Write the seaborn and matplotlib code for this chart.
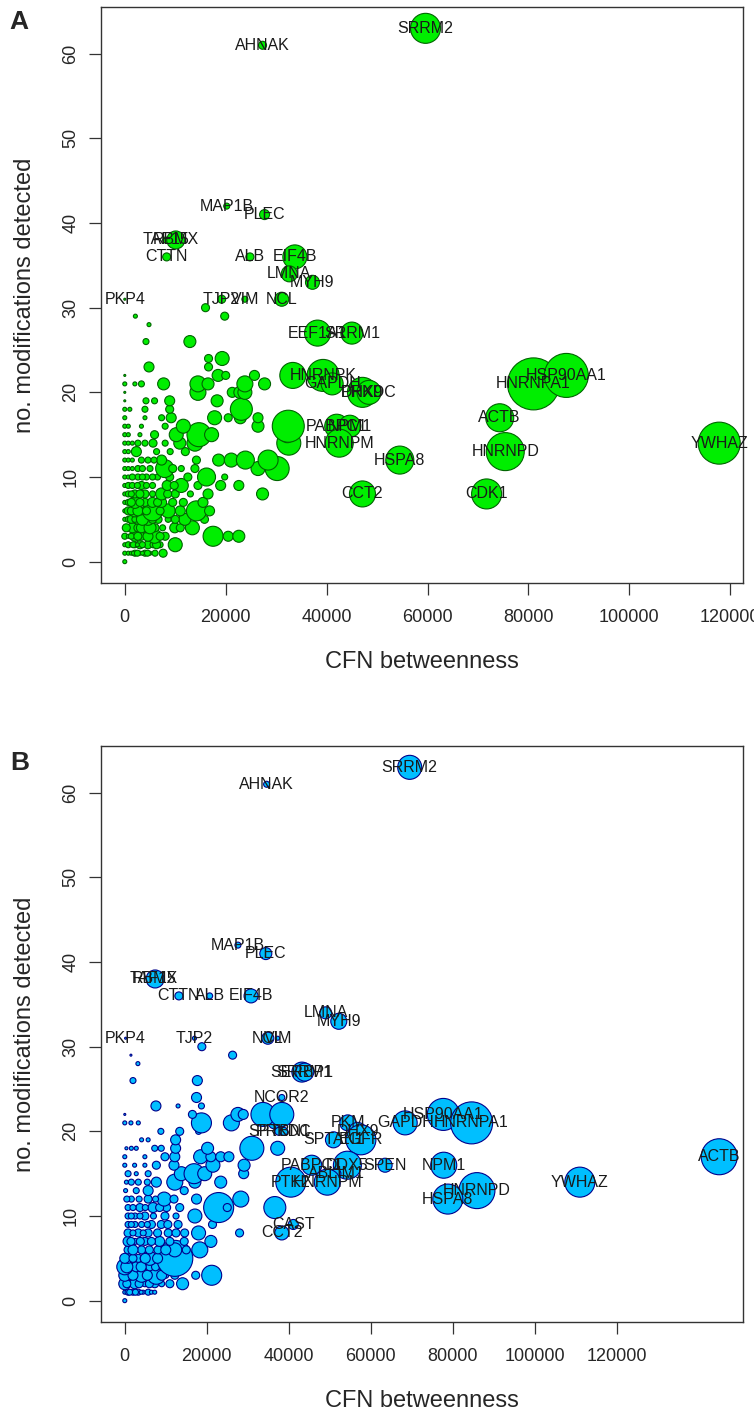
import numpy as np
import pandas as pd
import matplotlib
matplotlib.use("Agg")
import matplotlib.pyplot as plt
import seaborn as sns

# ---------------- DATA ----------------
# Panel A: labelled proteins (x = CFN betweenness in thousands, y = modifications, r = bubble radius)
a_names = ["SRRM2", "AHNAK", "MAP1B", "PLEC", "TAF15", "RBMX", "CTTN", "ALB", "EIF4B", "LMNA",
           "MYH9", "PKP4", "TJP2", "VIM", "NCL", "EEF1A1", "SRRM1", "HNRNPK", "GAPDH", "DHX9",
           "PRKDC", "HNRNPA1", "HSP90AA1", "ACTB", "HNRNPD", "YWHAZ", "CDK1", "CCT2", "HSPA8",
           "PABPC1", "NPM1", "HNRNPM"]
a_lab_x = [59.6, 27.3, 20.2, 27.7, 8.1, 10.1, 8.3, 24.8, 33.7, 32.6,
           37.2, 0.0, 19.2, 23.8, 31.1, 38.2, 45.0, 39.3, 41.1, 47.1,
           48.4, 81.0, 87.5, 74.3, 75.4, 117.8, 71.7, 47.1, 54.5,
           42.0, 44.6, 42.5]
a_lab_y = [63, 61, 42, 41, 38, 38, 36, 36, 36, 34,
           33, 31, 31, 31, 31, 27, 27, 22, 21, 20,
           20, 21, 22, 17, 13, 14, 8, 8, 12,
           16, 16, 14]
a_lab_r = [15, 4, 3, 5, 3, 9, 4, 4, 12, 8,
           7, 1, 4, 3, 7, 13, 11, 16, 11, 15,
           12, 26, 22, 14, 19, 21, 15, 13, 14,
           12, 11, 14]

# Panel A: unlabelled proteins, one row per modification count
a_rows_y = [0, 1, 2, 3, 4, 5, 6, 7, 8, 9, 10, 11, 12, 13, 14, 15, 16, 17, 18, 19, 20, 21, 22,
            23, 24, 26, 28, 29, 30]
a_rows_x = [
    [0],
    [0, 0.7, 1.3, 2.0, 3.0, 4.0, 5.0, 6.0, 7.6, 1.7, 2.5, 3.5, 4.5],
    [0, 0.7, 1.3, 2.0, 3.0, 4.6, 5.6, 7.0, 10.0, 1.7, 2.5, 3.5, 6.3],
    [0, 0.7, 2.0, 3.3, 5.9, 8.0, 17.5, 20.5, 22.6, 1.3, 2.6, 4.6, 7.0],
    [0, 0.7, 1.5, 2.6, 4.0, 6.0, 9.9, 11.0, 13.4, 0.3, 3.3, 5.0, 7.5],
    [0, 0.7, 1.3, 2.6, 4.6, 6.6, 8.6, 11.9, 15.8, 2.0, 3.5, 5.5, 10.0],
    [0, 0.7, 2.0, 3.3, 5.5, 8.6, 11.0, 14.2, 16.8, 1.3, 2.6, 4.3, 7.0],
    [0, 0.7, 2.0, 4.0, 7.3, 9.5, 11.6, 15.5, 1.3, 3.0, 5.5, 6.5],
    [0, 0.7, 2.0, 4.0, 7.3, 10.0, 13.0, 16.5, 27.3, 1.3, 3.0, 5.5, 8.5],
    [0, 0.7, 3.3, 5.5, 8.4, 11.2, 14.5, 19.0, 22.6, 1.5, 2.5, 4.3, 9.8],
    [0, 0.7, 2.6, 4.3, 6.5, 8.9, 12.5, 16.2, 19.8, 1.5, 3.5, 5.5],
    [0, 0.7, 2.6, 5.0, 7.9, 11.2, 13.9, 26.4, 30.2, 1.5, 3.5, 9.5],
    [0, 0.7, 3.3, 4.6, 7.3, 14.2, 18.6, 21.1, 23.9, 28.4, 1.5, 5.8],
    [0, 0.7, 2.3, 6.3, 9.0, 12.0],
    [0, 0.7, 2.6, 5.6, 8.0, 10.9, 13.9, 32.5, 1.5, 4.0],
    [0, 0.7, 3.0, 5.9, 10.2, 14.7, 17.2, 32.2],
    [0, 0.7, 3.3, 8.0, 11.6, 26.4, 32.4],
    [0, 4.0, 7.3, 9.2, 17.8, 20.5, 22.9, 26.4],
    [0, 1.0, 4.0, 8.9, 23.1],
    [0, 4.2, 5.9, 8.9, 18.3],
    [0, 14.5, 21.3, 22.8, 23.8],
    [0, 2.0, 3.3, 7.7, 14.5, 16.5, 23.8, 27.7],
    [0, 18.5, 20.0, 25.7, 33.3],
    [4.8, 16.6],
    [16.6, 19.3],
    [4.2, 12.9],
    [4.8],
    [2.1, 19.8],
    [16.0],
]
a_rows_r = [
    [2],
    [2, 2, 2, 3, 2, 3, 2, 3, 4, 2, 3, 2, 3],
    [2, 3, 2, 3, 4, 4, 3, 3, 7, 3, 2, 3, 4],
    [3, 2, 5, 4, 7, 4, 10, 5, 6, 3, 4, 5, 4],
    [2, 3, 5, 4, 5, 4, 5, 4, 7, 4, 5, 6, 3],
    [2, 3, 4, 5, 6, 4, 3, 6, 4, 3, 6, 4, 4],
    [2, 4, 6, 4, 10, 7, 5, 10, 5, 4, 5, 4, 4],
    [2, 3, 6, 4, 5, 4, 4, 5, 4, 4, 5, 4],
    [2, 3, 4, 4, 6, 4, 3, 5, 6, 3, 4, 3, 4],
    [2, 3, 4, 3, 5, 7, 4, 5, 5, 3, 3, 3, 4],
    [2, 2, 3, 3, 3, 4, 4, 9, 3, 3, 3, 3],
    [2, 2, 3, 3, 9, 3, 4, 7, 12, 2, 3, 4],
    [2, 2, 3, 3, 5, 4, 6, 7, 9, 10, 2, 3],
    [2, 2, 5, 3, 3, 4],
    [2, 2, 3, 4, 3, 6, 8, 12, 2, 3],
    [2, 2, 2, 4, 7, 12, 7, 8],
    [2, 2, 2, 3, 7, 6, 16],
    [2, 2, 3, 5, 7, 4, 6, 5],
    [2, 2, 3, 4, 11],
    [1, 3, 3, 5, 6],
    [1, 8, 5, 6, 7],
    [2, 2, 3, 6, 8, 6, 8, 6],
    [1, 6, 4, 5, 13],
    [5, 4],
    [4, 7],
    [3, 6],
    [2],
    [2, 4],
    [4],
]

# Panel B: labelled proteins
b_names = ["SRRM2", "AHNAK", "MAP1B", "PLEC", "TAF15", "RBMX", "CTTN", "ALB", "EIF4B", "LMNA",
           "MYH9", "PKP4", "TJP2", "NCL", "VIM", "SERBP1", "SRRM1", "NCOR2", "SPTBN1", "PRKDC",
           "PKM", "DHX9", "SPTAN1", "EGFR", "GAPDH", "HSP90AA1", "HNRNPA1", "ACTB", "YWHAZ",
           "NPM1", "HNRNPD", "HSPA8", "SPEN", "DDX5", "PABPC1", "ABLIM1", "HNRNPM", "PTK2",
           "CAST", "CCT2"]
b_lab_x = [69.5, 34.6, 27.6, 34.4, 7.0, 7.4, 13.2, 20.7, 30.8, 49.0,
           52.2, 0.2, 17.0, 34.9, 37.3, 43.2, 43.9, 38.3, 37.6, 38.8,
           54.4, 56.8, 50.9, 57.6, 68.4, 77.7, 84.6, 145.0, 111.0,
           77.8, 85.9, 78.8, 63.5, 54.3, 45.6, 51.5, 49.4, 40.5,
           41.1, 38.3]
b_lab_y = [63, 61, 42, 41, 38, 38, 36, 36, 36, 34,
           33, 31, 31, 31, 31, 27, 27, 24, 20, 20,
           21, 20, 19, 19, 21, 22, 21, 17, 14,
           16, 13, 12, 16, 16, 16, 15, 14, 14,
           9, 8]
b_lab_r = [12, 3, 3, 6, 3, 9, 4, 3, 7, 6,
           8, 1, 2, 6, 2, 10, 9, 3, 4, 4,
           8, 9, 8, 15, 12, 16, 21, 18, 15,
           13, 18, 15, 7, 14, 10, 5, 13, 15,
           5, 7]

b_rows_y = [0, 1, 2, 3, 4, 5, 6, 7, 8, 9, 10, 11, 12, 13, 14, 15, 16, 17, 18, 19, 20, 21, 22,
            23, 24, 26, 28, 29, 30]
b_rows_x = [
    [0],
    [0, 0.8, 2.0, 3.3, 4.5, 5.7, 6.5, 1.2, 2.6, 4.0, 7.3],
    [0, 1.0, 2.4, 4.9, 7.3, 9.0, 14.1, 0.5, 3.5, 6.0, 11.0],
    [0.8, 4.1, 7.7, 10.0, 12.2, 17.3, 21.2, 0, 2.0, 5.5, 9.0],
    [0, 1.5, 2.8, 6.1, 9.3, 13.0, 0.5, 4.0, 7.5, 11.0],
    [0.8, 3.3, 4.5, 6.1, 9.8, 12.2, 0, 2.0, 5.0, 8.0],
    [0.8, 4.1, 8.1, 12.2, 15.0, 18.3, 2.0, 6.0, 10.0],
    [0.8, 2.5, 4.9, 8.5, 11.0, 21.0, 1.5, 3.8, 6.5, 14.5],
    [0.8, 3.3, 5.7, 10.6, 14.6, 18.0, 28.0, 2.0, 4.5, 8.0, 12.5],
    [0.8, 2.5, 4.1, 6.5, 8.9, 13.0, 21.4, 1.6, 5.5, 10.5],
    [0.8, 2.5, 4.9, 9.8, 12.5, 17.1, 1.6, 3.7, 7.0],
    [0.8, 3.7, 6.9, 10.2, 13.4, 22.9, 25.0, 36.6, 2.0, 5.0, 8.5],
    [1.6, 3.5, 5.7, 9.6, 17.5, 28.3, 0.5, 7.5, 12.0],
    [0.2, 2.8, 5.7, 14.5],
    [0.4, 1.6, 3.3, 7.7, 12.2, 17.1, 23.4, 5.5],
    [0.8, 2.8, 5.7, 13.8, 16.9, 19.5, 29.0],
    [0, 2.4, 4.9, 7.7, 12.0, 21.5, 29.1],
    [0, 4.9, 9.8, 12.2, 18.5, 21.0, 23.4, 25.4],
    [0.4, 1.6, 2.8, 7.3, 8.9, 12.4, 20.2, 31.0, 37.3],
    [4.1, 5.7, 12.4],
    [8.8, 13.4, 18.0],
    [0, 1.5, 3.3, 18.7, 26.0, 36.5],
    [0, 16.5, 27.6, 28.9, 33.7, 38.3],
    [7.6, 13.0, 18.7],
    [17.5],
    [2.0, 17.7],
    [3.2],
    [1.5, 26.3],
    [18.8],
]
b_rows_r = [
    [2],
    [2, 3, 3, 3, 2, 3, 2, 3, 3, 2, 2],
    [6, 3, 5, 3, 4, 3, 6, 4, 4, 4, 4],
    [4, 7, 9, 3, 4, 4, 10, 6, 5, 5, 5],
    [8, 4, 5, 4, 4, 3, 6, 5, 4, 5],
    [5, 4, 3, 7, 5, 18, 5, 4, 5, 5],
    [4, 4, 4, 7, 4, 8, 5, 4, 5],
    [5, 3, 4, 5, 4, 6, 4, 4, 4, 4],
    [4, 4, 4, 4, 4, 7, 4, 3, 3, 4, 4],
    [3, 3, 3, 4, 4, 4, 4, 3, 3, 4],
    [3, 3, 4, 4, 3, 7, 3, 3, 3],
    [3, 4, 5, 4, 4, 15, 4, 11, 3, 3, 4],
    [3, 3, 4, 7, 5, 8, 3, 3, 4],
    [2, 3, 5, 4],
    [2, 3, 3, 5, 8, 6, 6, 3],
    [3, 2, 3, 7, 10, 7, 5],
    [2, 2, 2, 4, 5, 7, 6],
    [2, 2, 4, 5, 7, 5, 5, 5],
    [1.5, 2, 2, 3, 3, 5, 6, 12, 7],
    [2, 2, 5],
    [3, 4, 3],
    [2, 2, 2, 10, 8, 6],
    [1, 4, 7, 5, 12, 12],
    [5, 2, 3],
    [5],
    [3, 5],
    [2],
    [1, 4],
    [4],
]

x_ticks_a = [0, 20000, 40000, 60000, 80000, 100000, 120000]
x_ticks_b = [0, 20000, 40000, 60000, 80000, 100000, 120000]
y_ticks = [0, 10, 20, 30, 40, 50, 60]

# ---------------- STYLE ----------------
sns.set_theme(style="white")
plt.rcParams['font.family'] = ['Liberation Sans', 'DejaVu Sans']

W, H = 754, 1411
DPI = 100
PX2 = (2 * 72.0 / DPI) ** 2  # radius in px -> marker area in pt^2


def build_frame(rows_y, rows_x, rows_r, names, lx, ly, lr):
    xs, ys, rs = [], [], []
    for yv, xrow, rrow in zip(rows_y, rows_x, rows_r):
        for xv, rv in zip(xrow, rrow):
            xs.append(xv * 1000)
            ys.append(yv)
            rs.append(rv)
    bg = pd.DataFrame({"x": xs, "y": ys, "r": rs, "name": ""})
    lab = pd.DataFrame({"x": np.array(lx) * 1000, "y": ly, "r": lr, "name": names})
    df = pd.concat([bg, lab], ignore_index=True)
    df["area"] = df["r"] ** 2
    return df


def draw_panel(ax, df, fill, edge, xticks):
    amax = df["area"].max()
    sns.scatterplot(data=df, x="x", y="y", size="area", size_norm=(0, amax),
                    sizes=(0, amax * PX2), color=fill, edgecolor=edge, linewidth=0.8,
                    alpha=1, legend=False, ax=ax, zorder=2)
    for _, row in df[df["name"] != ""].iterrows():
        ax.text(row["x"], row["y"], row["name"], ha="center", va="center",
                fontsize=11.5, color="#1a1a1a", zorder=5)
    xmax = df["x"].max()
    ymax = df["y"].max()
    ax.set_xlim(-0.04 * xmax, 1.04 * xmax)
    ax.set_ylim(-0.04 * ymax, 1.04 * ymax)
    ax.set_xticks(xticks)
    ax.set_xticklabels([str(t) for t in xticks], fontsize=13)
    ax.set_yticks(y_ticks)
    ax.set_yticklabels([str(t) for t in y_ticks], fontsize=13, rotation=90, va="center")
    ax.tick_params(axis="both", direction="out", length=8.5, width=0.9, color="#333333",
                   bottom=True, left=True)
    ax.tick_params(axis="x", pad=10)
    ax.tick_params(axis="y", pad=7)
    for s in ax.spines.values():
        s.set_visible(True)
        s.set_color("#333333")
        s.set_linewidth(1.0)
    ax.set_xlabel("CFN betweenness", fontsize=17, va="center")
    ax.xaxis.set_label_coords(0.5, -(662 - 583) / 576)
    ax.set_ylabel("no. modifications detected", fontsize=17, va="center")
    ax.yaxis.set_label_coords((25 - 101) / 642, 0.5)
    ax.grid(False)
    ax.set_facecolor("white")


fig = plt.figure(figsize=(W / DPI, H / DPI), dpi=DPI)
fig.patch.set_facecolor("white")

ax_a = fig.add_axes([101 / W, 1 - 583 / H, 642 / W, 576 / H])
ax_b = fig.add_axes([101 / W, 1 - 1322 / H, 642 / W, 576 / H])

df_a = build_frame(a_rows_y, a_rows_x, a_rows_r, a_names, a_lab_x, a_lab_y, a_lab_r)
df_b = build_frame(b_rows_y, b_rows_x, b_rows_r, b_names, b_lab_x, b_lab_y, b_lab_r)

draw_panel(ax_a, df_a, "#00EE00", "#006400", x_ticks_a)
draw_panel(ax_b, df_b, "#00BFFF", "#00008B", x_ticks_b)

fig.text(19 / W, 1 - 22 / H, "A", fontsize=19, fontweight="bold", ha="center", va="center")
fig.text(20 / W, 1 - 763 / H, "B", fontsize=19, fontweight="bold", ha="center", va="center")

fig.savefig("out.png", dpi=DPI, facecolor="white")
